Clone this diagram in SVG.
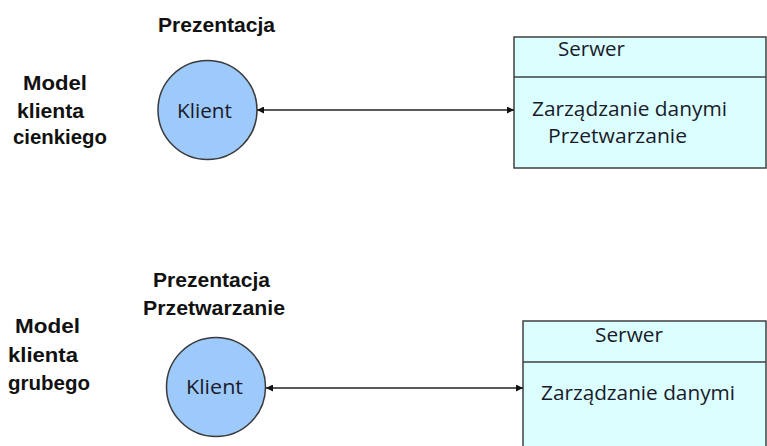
<svg xmlns="http://www.w3.org/2000/svg" width="767" height="446" viewBox="0 0 767 446">
<style>
.lbl{font-family:"Liberation Sans",Arial,sans-serif;font-weight:bold;font-size:21px;fill:#111}
.txt{font-family:"Open Sans","Liberation Sans",sans-serif;font-size:20px;fill:#1a1a2a}
.client{fill:#9dcafb;stroke:#3a3a3a;stroke-width:1.5}
.server{fill:#dbffff;stroke:#404040;stroke-width:1.5}
.conn{stroke:#222;stroke-width:1.5;fill:none;marker-start:url(#ah);marker-end:url(#ah)}
</style>
<defs>
<marker id="ah" viewBox="0 0 10 10" refX="10" refY="5" markerWidth="7" markerHeight="7" orient="auto-start-reverse" markerUnits="userSpaceOnUse">
<path d="M0,0 L10,5 L0,10 z" fill="#111"/>
</marker>
</defs>
<rect width="767" height="446" fill="#fff"/>

<g id="labels">
<text class="lbl" x="158" y="32" textLength="117" lengthAdjust="spacingAndGlyphs">Prezentacja</text>
<text class="lbl" x="23" y="90" textLength="64" lengthAdjust="spacingAndGlyphs">Model</text>
<text class="lbl" x="17" y="118" textLength="67" lengthAdjust="spacingAndGlyphs">klienta</text>
<text class="lbl" x="13" y="144" textLength="94" lengthAdjust="spacingAndGlyphs">cienkiego</text>

<text class="lbl" x="153" y="287" textLength="117" lengthAdjust="spacingAndGlyphs">Prezentacja</text>
<text class="lbl" x="143" y="315" textLength="142" lengthAdjust="spacingAndGlyphs">Przetwarzanie</text>
<text class="lbl" x="15" y="333" textLength="65" lengthAdjust="spacingAndGlyphs">Model</text>
<text class="lbl" x="8" y="362" textLength="70" lengthAdjust="spacingAndGlyphs">klienta</text>
<text class="lbl" x="8" y="390" textLength="82" lengthAdjust="spacingAndGlyphs">grubego</text>
</g>

<g id="client-thin">
<circle class="client" cx="207.5" cy="110" r="49.5"/>
<text class="txt" x="177" y="118" textLength="55" lengthAdjust="spacingAndGlyphs">Klient</text>
</g>

<g id="server-thin">
<rect class="server" x="514" y="37" width="252" height="131"/>
<line x1="514" y1="77" x2="766" y2="77" stroke="#404040" stroke-width="1.5"/>
<text class="txt" x="558" y="56" textLength="67" lengthAdjust="spacingAndGlyphs">Serwer</text>
<text class="txt" x="532" y="116" textLength="195" lengthAdjust="spacingAndGlyphs">Zarządzanie danymi</text>
<text class="txt" x="548" y="143" textLength="139" lengthAdjust="spacingAndGlyphs">Przetwarzanie</text>
</g>

<g id="client-thick">
<circle class="client" cx="216" cy="387" r="49.5"/>
<text class="txt" x="186" y="394" textLength="57" lengthAdjust="spacingAndGlyphs">Klient</text>
</g>

<g id="server-thick">
<rect class="server" x="523" y="321" width="243" height="140"/>
<line x1="523" y1="362" x2="766" y2="362" stroke="#404040" stroke-width="1.5"/>
<text class="txt" x="595" y="342" textLength="68" lengthAdjust="spacingAndGlyphs">Serwer</text>
<text class="txt" x="541" y="400" textLength="194" lengthAdjust="spacingAndGlyphs">Zarządzanie danymi</text>
</g>

<g id="connectors">
<line class="conn" x1="257" y1="110" x2="514" y2="110"/>
<line class="conn" x1="266" y1="388" x2="523" y2="388"/>
</g>
</svg>
